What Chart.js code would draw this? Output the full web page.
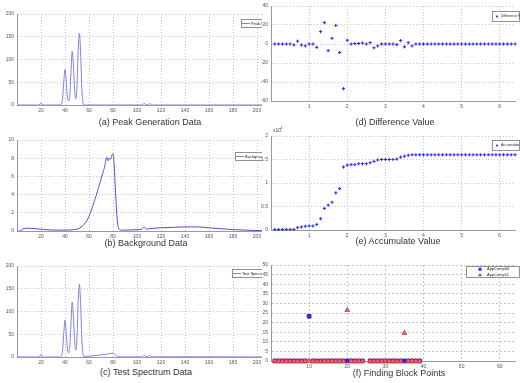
<!DOCTYPE html>
<html>
<head>
<meta charset="utf-8">
<script src="https://cdn.jsdelivr.net/npm/chart.js@4.4.0/dist/chart.umd.min.js"></script>
<style>
  body { margin: 0; background: #fff; width: 520px; height: 383px; overflow: hidden; position: relative;
         font-family: "Liberation Sans", Arial, sans-serif; }
  .clip { position: absolute; left: 0; top: 0; width: 262px; height: 383px; overflow: hidden; }
  canvas { position: absolute; }
  .cap { position: absolute; font-size: 9px; color: #333; white-space: nowrap; transform: translateX(-50%); }
</style>
</head>
<body>
<div class="clip">
  <canvas id="peak_canvas" width="276" height="115" style="left:0;top:0"></canvas>
  <canvas id="background_canvas" width="276" height="115" style="left:0;top:126px"></canvas>
  <canvas id="test_canvas" width="276" height="115" style="left:0;top:252px"></canvas>
</div>
<canvas id="diff_canvas" width="259" height="115" style="left:261px;top:0"></canvas>
<canvas id="accum_canvas" width="259" height="115" style="left:261px;top:126px"></canvas>
<canvas id="block_canvas" width="259" height="120" style="left:261px;top:252px"></canvas>

<div class="cap" style="left:150px;top:117px">(a) Peak Generation Data</div>
<div class="cap" style="left:146px;top:238px">(b) Background Data</div>
<div class="cap" style="left:146px;top:367px">(c) Test Spectrum Data</div>
<div class="cap" style="left:395px;top:117px">(d) Difference Value</div>
<div class="cap" style="left:398px;top:236px">(e) Accumulate Value</div>
<div class="cap" style="left:399px;top:368px">(f) Finding Block Points</div>

<script>
// (a) peak generation data
const peakX = [0, 10, 17, 19, 20, 21, 23, 30, 36,
  37, 38, 39, 40, 41, 42, 43, 44, 45, 46, 47, 48, 49, 50, 51, 52, 53, 54, 55, 56,
  60, 80, 100, 104, 105, 106, 107, 108, 109, 110, 111, 112, 113,
  115, 120, 140, 160, 180, 200, 212];
const peakY = [0, 0, 0, 1, 5, 1, 0, 0, 0,
  2, 15, 52, 78, 52, 17, 9, 22, 72, 118, 88, 35, 14, 42, 120, 158, 115, 40, 6, 0,
  0, 0, 0, 0, 1.5, 4, 1.5, 0.5, 0.5, 2, 3, 1, 0,
  0, 0, 0, 0, 0, 0, 0];

// (b) background data
const bgX = [0, 3, 5, 10, 20, 30, 40, 48, 52, 55, 58, 60, 62, 64, 66, 68, 70, 72, 73, 74, 75, 76,
  77, 78, 79, 80, 81, 82, 83, 84, 85, 87, 90, 100, 104, 106, 108, 110, 120, 130, 140, 150,
  160, 170, 180, 190, 200, 212];
const bgY = [0, 0, 0.25, 0.3, 0.2, 0.1, 0.1, 0.15, 0.3, 0.6, 1.1, 1.6, 2.3, 3.1, 3.9, 4.8, 5.7, 6.6, 7.0, 7.8, 8.1, 7.7,
  8.0, 7.9, 8.3, 8.5, 7.2, 4.6, 2.2, 0.7, 0.2, 0.1, 0.1, 0.15, 0.2, 0.45, 0.2, 0.25, 0.35, 0.4, 0.45, 0.45,
  0.35, 0.25, 0.15, 0.1, 0.05, 0.05];

// (c) test spectrum data
const testX = [0, 10, 17, 19, 20, 21, 23, 30, 36,
  37, 38, 39, 40, 41, 42, 43, 44, 45, 46, 47, 48, 49, 50, 51, 52, 53, 54, 55, 56,
  58, 60, 65, 70, 75, 78, 80, 82, 84, 86, 90, 100,
  104, 105, 106, 107, 108, 109, 110, 111, 112, 113,
  115, 120, 140, 160, 180, 200, 212];
const testY = [0, 0, 0, 1, 6, 1, 0, 0, 0,
  2, 15, 53, 81, 53, 18, 9, 23, 74, 121, 90, 36, 15, 44, 122, 160, 117, 41, 7, 1,
  1.3, 1.8, 3, 4.5, 6.5, 7.8, 8.5, 5, 1, 0.3, 0.2, 0.2,
  0.2, 1.7, 4.2, 1.7, 0.7, 0.7, 2.2, 3.2, 1.2, 0.3,
  0.3, 0.4, 0.5, 0.4, 0.2, 0.1, 0.1];

// (d) and (e) are sampled every 0.1 from 0.1 to 6.4
const sampleStep = 0.1;
const diffValues = [0, 0, 0, 0, 0, -1, 3, -1, -2, 0,
  0, -3.5, 13, 22.5, -7, 6, 19.6, -9, -47, 4,
  0, 0.5, 0.5, 1, 0, 1.4, -4, -2, 0, 0,
  0, 0, -0.7, 3.6, -3, 1.4, -2, 0, 0, 0,
  0, 0, 0, 0, 0, 0, 0, 0, 0, 0,
  0, 0, 0, 0, 0, 0, 0, 0, 0, 0,
  0, 0, 0, 0];
const accumValues = [0.01, 0.01, 0.01, 0.012, 0.012, 0.012, 0.05, 0.064, 0.08, 0.086,
  0.086, 0.12, 0.24, 0.46, 0.53, 0.59, 0.79, 0.88, 1.34, 1.38,
  1.39, 1.39, 1.41, 1.41, 1.41, 1.43, 1.46, 1.49, 1.5, 1.5,
  1.5, 1.5, 1.51, 1.55, 1.57, 1.59, 1.6, 1.6, 1.6, 1.6,
  1.6, 1.6, 1.6, 1.6, 1.6, 1.6, 1.6, 1.6, 1.6, 1.6,
  1.6, 1.6, 1.6, 1.6, 1.6, 1.6, 1.6, 1.6, 1.6, 1.6,
  1.6, 1.6, 1.6, 1.6];

// (f) finding block points
const blockX = [1, 2, 3, 4, 5, 6, 7, 8, 9, 10, 11, 12, 13, 14, 15, 16, 17, 18, 19, 20,
  21, 22, 23, 24, 26, 27, 28, 29, 30, 31, 32, 33, 34, 35, 36, 37, 38, 39];
const comp00 = [0, 0, 0, 0, 0, 0, 0, 0, 0, 23.3, 0, 0, 0, 0, 0, 0, 0, 0, 0, 0,
  0, 0, 0, 0, 0, 0, 0, 0, 0, 0, 0, 0, 0, 0, 0, 0, 0, 0];
const comp11 = [0, 0, 0, 0, 0, 0, 0, 0, 0, 0, 0, 0, 0, 0, 0, 0, 0, 0, 0, 26.5,
  0, 0, 0, 0, 0, 0, 0, 0, 0, 0, 0, 0, 0, 14.6, 0, 0, 0, 0];

const spectrumTicks = [20, 40, 60, 80, 100, 120, 140, 160, 180, 200];
const timeTicks = [1, 2, 3, 4, 5, 6];

function xy(xs, ys) {
  return xs.map((x, i) => ({x: x, y: ys[i]}));
}
function sampled(values) {
  return values.map((v, i) => ({x: (i + 1) * sampleStep, y: v}));
}

function axis(kind, s, size, dash) {
  return {
    type: 'linear', min: s.min, max: s.max,
    afterBuildTicks: sc => { sc.ticks = s.ticks.map(v => ({value: v})); },
    afterFit: sc => { if (kind === 'x') sc.height = size; else sc.width = size; },
    grid: {color: '#c6c6c6', lineWidth: 1, drawTicks: false},
    border: {color: '#9a9a9a', dash: dash || [1, 2]},
    ticks: {font: {size: 5, family: 'Liberation Sans'}, color: '#555', padding: 3,
            maxRotation: 0, autoSkip: false, callback: v => v}
  };
}

function drawMarker(ctx, kind, color, x, y) {
  ctx.strokeStyle = color; ctx.fillStyle = color; ctx.lineWidth = 0.8;
  ctx.beginPath();
  if (kind === 'line') { ctx.moveTo(x - 4, y); ctx.lineTo(x + 4, y); ctx.stroke(); }
  else if (kind === 'cross') { ctx.moveTo(x, y - 1.5); ctx.lineTo(x, y + 1.5); ctx.moveTo(x - 1, y); ctx.lineTo(x + 1, y); ctx.stroke(); }
  else if (kind === 'rect') { ctx.fillRect(x - 1.5, y - 1.5, 3, 3); }
  else if (kind === 'triangle') { ctx.moveTo(x, y - 1.8); ctx.lineTo(x + 2, y + 1.4); ctx.lineTo(x - 2, y + 1.4); ctx.closePath(); ctx.fill(); }
}

function legendBox(cfg) {
  return {
    id: 'legendBox',
    afterDraw(chart) {
      const ctx = chart.ctx;
      ctx.save();
      ctx.fillStyle = '#fff';
      ctx.strokeStyle = '#777';
      ctx.lineWidth = 0.8;
      ctx.fillRect(cfg.x, cfg.y, cfg.w, cfg.h);
      ctx.strokeRect(cfg.x + 0.5, cfg.y + 0.5, cfg.w, cfg.h);
      cfg.items.forEach((it, i) => {
        const cy = cfg.y + cfg.h * (i + 0.5) / cfg.items.length + 0.5;
        drawMarker(ctx, it.kind, it.color, cfg.x + cfg.mx, cy);
        ctx.fillStyle = '#222';
        ctx.font = cfg.font + 'px "Liberation Sans"';
        ctx.textBaseline = 'middle';
        ctx.fillText(it.label, cfg.x + cfg.tx, cy);
      });
      if (cfg.note) {
        ctx.fillStyle = '#444';
        ctx.font = '5px "Liberation Sans"';
        ctx.fillText('x10', cfg.note.x, cfg.note.y);
        ctx.font = '3.5px "Liberation Sans"';
        ctx.fillText('4', cfg.note.x + 7.5, cfg.note.y - 2.5);
      }
      ctx.restore();
    }
  };
}

function panel(id, box, datasets, xs, ys, legend, dash) {
  return new Chart(document.getElementById(id), {
    type: 'line',
    data: {datasets: datasets},
    options: {
      responsive: false,
      animation: false,
      layout: {padding: {top: box.t, right: box.w - box.r, left: 0, bottom: 0}},
      plugins: {legend: {display: false}, tooltip: {enabled: false}},
      scales: {
        x: axis('x', xs, box.h - box.b, dash),
        y: axis('y', ys, box.l, dash)
      }
    },
    plugins: [legendBox(legend)]
  });
}

function spectrum(points, color) {
  return {data: points, borderColor: color, borderWidth: 1, pointRadius: 0,
          cubicInterpolationMode: 'monotone', fill: false};
}
function markers(points, style, color, fillColor, radius, order) {
  return {data: points, showLine: false, pointStyle: style, pointRadius: radius,
          borderColor: color, backgroundColor: fillColor, pointBorderWidth: 1, clip: false, order: order};
}

const leftBox = {w: 276, h: 115, l: 17, t: 14, b: 105, r: 272};
const spectrumX = {min: 0, max: 212.5, ticks: spectrumTicks};

panel('peak_canvas', leftBox, [spectrum(xy(peakX, peakY), '#8080e0')], spectrumX,
  {min: 0, max: 200, ticks: [0, 50, 100, 150, 200]},
  {x: 241, y: 19, w: 36, h: 8, mx: 5, tx: 10, font: 4, items: [{label: 'Peak Data', kind: 'line', color: '#6060d0'}]});

panel('background_canvas', leftBox, [spectrum(xy(bgX, bgY), '#5252d2')], spectrumX,
  {min: 0, max: 10, ticks: [0, 2, 4, 6, 8, 10]},
  {x: 235, y: 26, w: 42, h: 8, mx: 5, tx: 10, font: 4, items: [{label: 'Background Data', kind: 'line', color: '#6060d0'}]});

panel('test_canvas', leftBox, [spectrum(xy(testX, testY), '#8080e0')], spectrumX,
  {min: 0, max: 200, ticks: [0, 50, 100, 150, 200]},
  {x: 232, y: 17, w: 45, h: 8, mx: 5, tx: 10, font: 4, items: [{label: 'Test Spectrum Data', kind: 'line', color: '#6060d0'}]});

panel('diff_canvas', {w: 259, h: 115, l: 10, t: 6, b: 101, r: 259},
  [markers(sampled(diffValues), 'cross', '#2424ff', '#2424ff', 1.6, 0)],
  {min: 0, max: 6.4, ticks: timeTicks},
  {min: -60, max: 40, ticks: [-60, -40, -20, 0, 20, 40]},
  {x: 231, y: 11, w: 27, h: 10, mx: 5, tx: 9, font: 3.5, items: [{label: 'Difference Value', kind: 'cross', color: '#2424ff'}]});

panel('accum_canvas', {w: 259, h: 115, l: 10, t: 10, b: 104, r: 259},
  [markers(sampled(accumValues), 'cross', '#2424ff', '#2424ff', 1.6, 0)],
  {min: 0, max: 6.4, ticks: timeTicks},
  {min: 0, max: 2, ticks: [0, 0.5, 1, 1.5, 2]},
  {x: 231, y: 14, w: 27, h: 10, mx: 5, tx: 9, font: 3.5, items: [{label: 'Accumulate Value', kind: 'cross', color: '#2424ff'}],
   note: {x: 12, y: 5}});

panel('block_canvas', {w: 259, h: 120, l: 10, t: 13, b: 109, r: 259},
  [markers(xy(blockX, comp00), 'rect', '#1e1ee6', '#2a2af0', 2.6, 1),
   markers(xy(blockX, comp11), 'triangle', '#e03a3a', '#f07a7a', 2.6, 0)],
  {min: 0, max: 64, ticks: [10, 20, 30, 40, 50, 60]},
  {min: 0, max: 50, ticks: [0, 5, 10, 15, 20, 25, 30, 35, 40, 45, 50]},
  {x: 205, y: 14, w: 53, h: 11, mx: 14, tx: 21, font: 4,
   items: [{label: 'AppComp00', kind: 'rect', color: '#2a2af0'}, {label: 'AppComp11', kind: 'triangle', color: '#e03a3a'}]},
  [2, 2]);
</script>
</body>
</html>
